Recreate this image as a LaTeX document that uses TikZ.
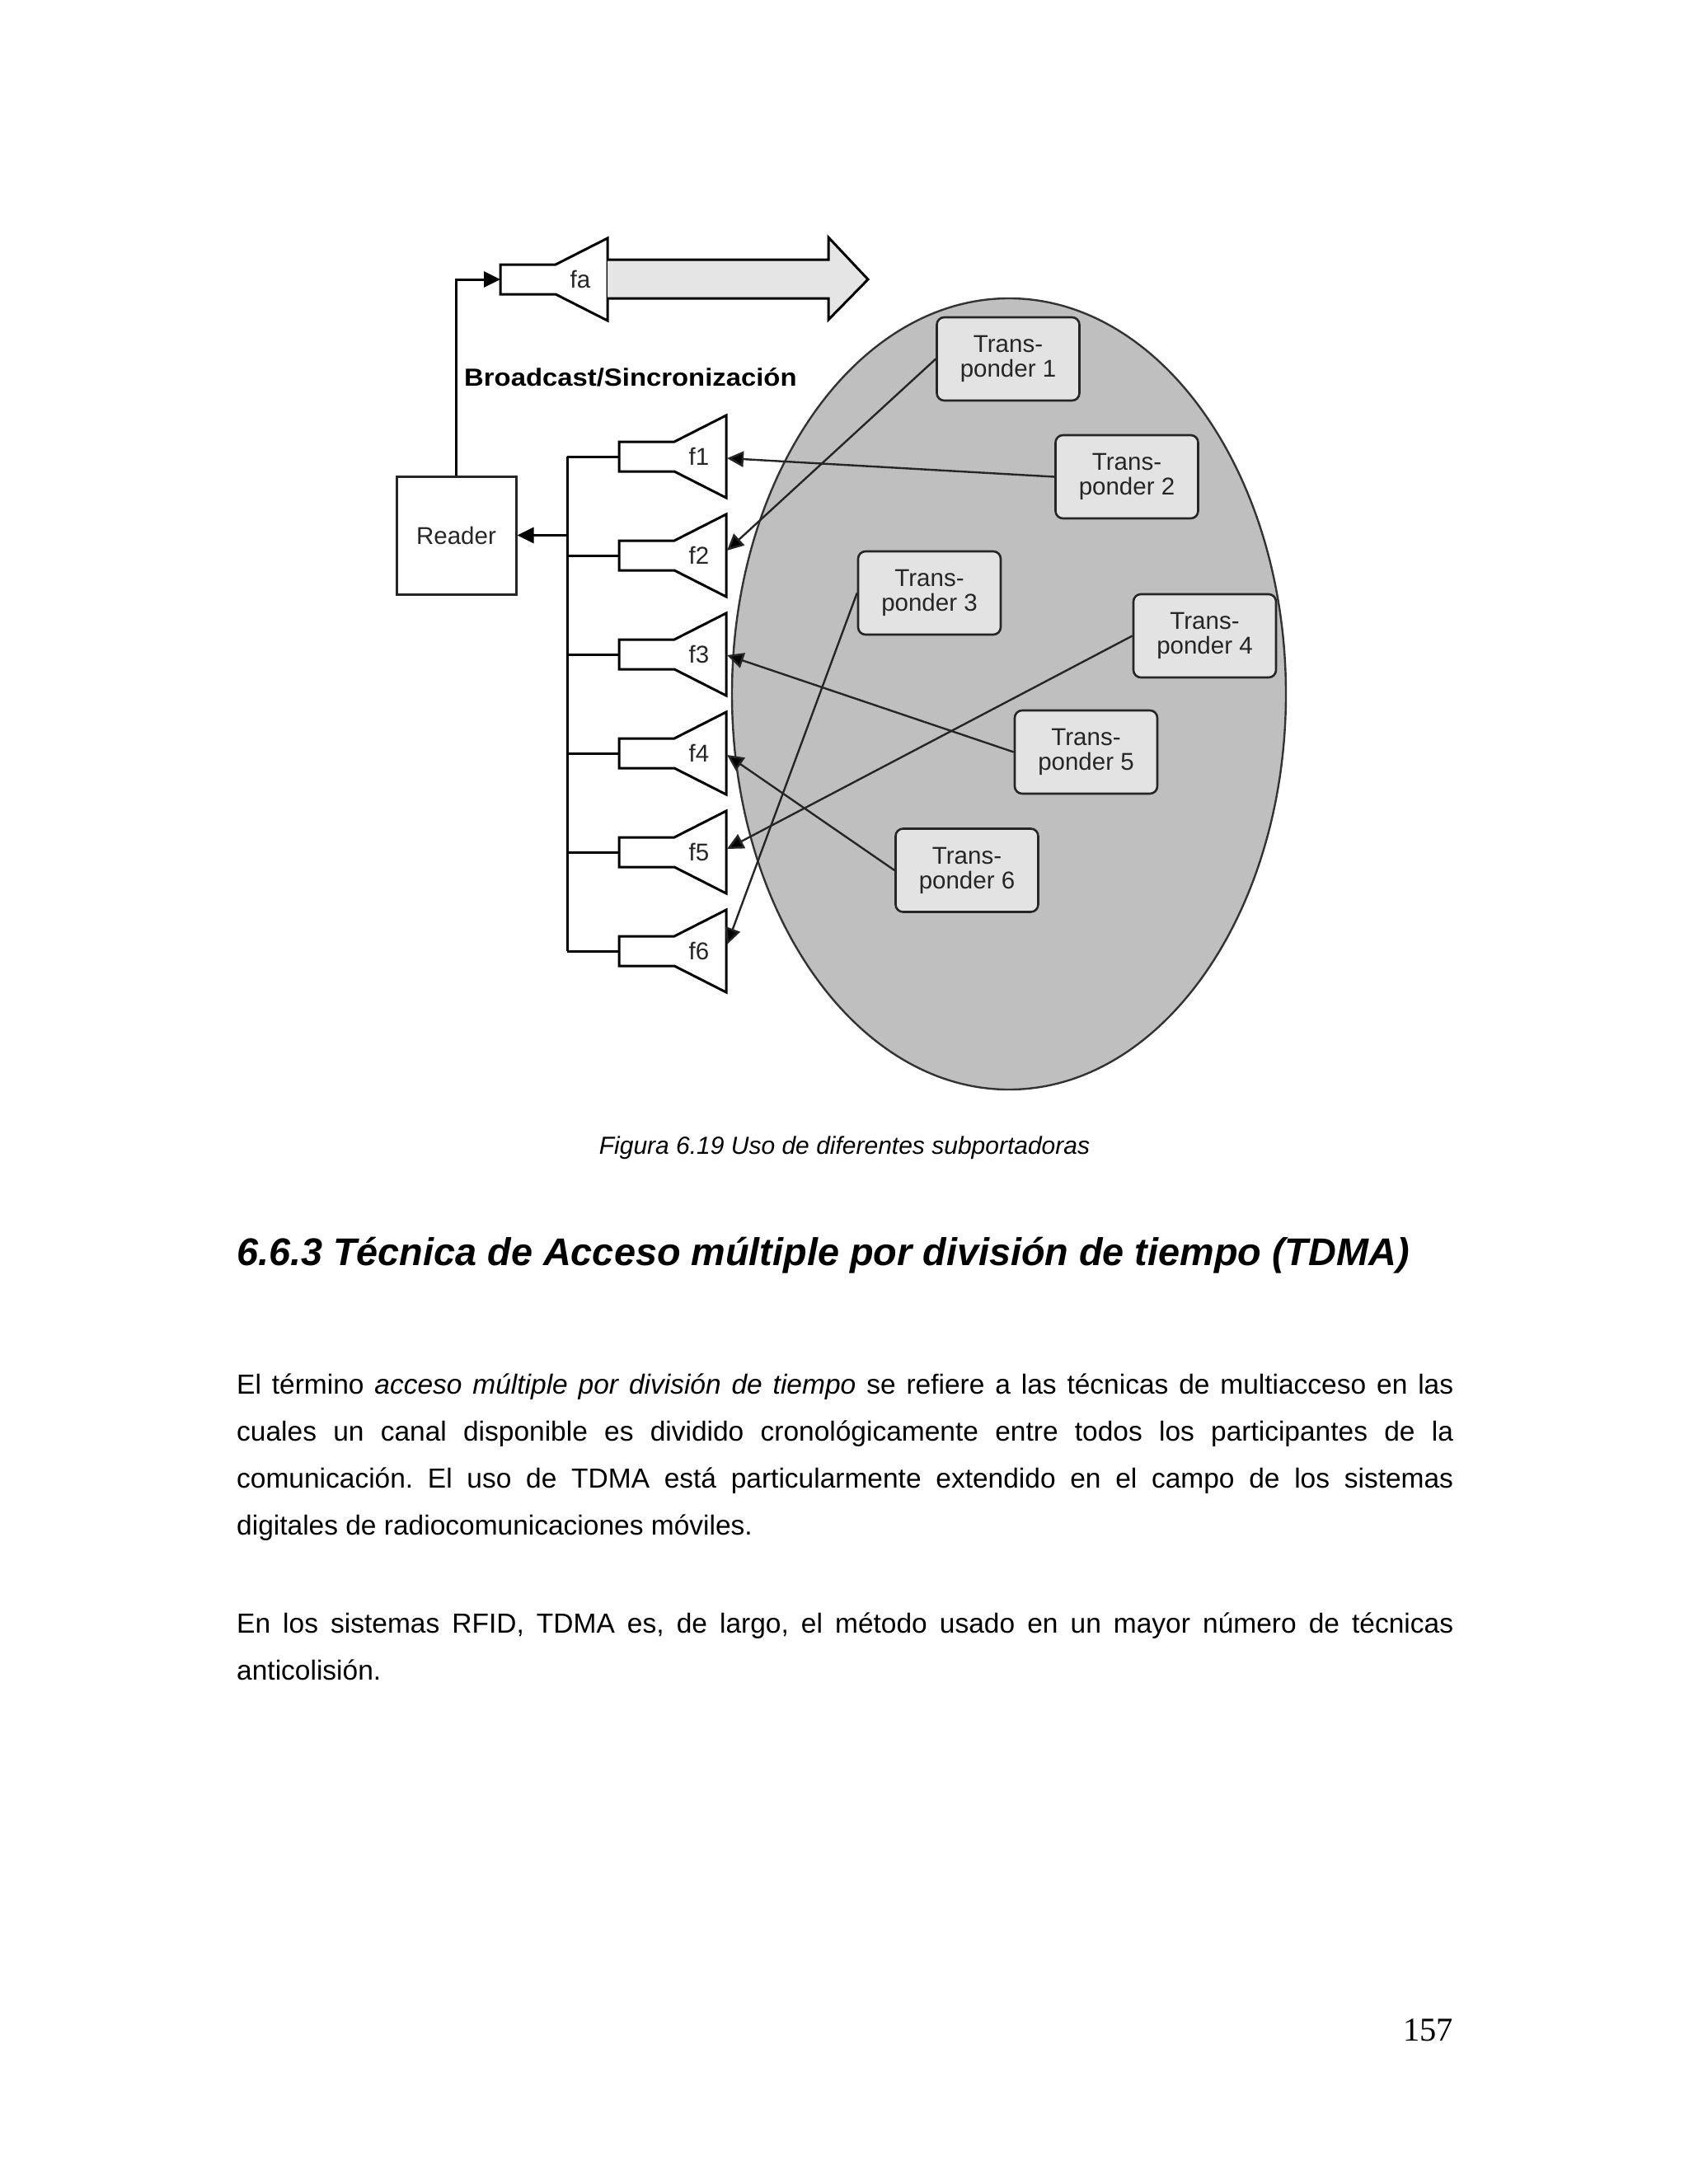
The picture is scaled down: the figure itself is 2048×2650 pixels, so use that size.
\documentclass[tikz,border=0pt]{standalone}
\usepackage{fontspec}
\setmainfont{Liberation Sans}
\newfontfamily\pagenumfont{Liberation Serif}
\usetikzlibrary{arrows.meta,shapes.geometric}
\frenchspacing
\newcommand\amplifier[4]{%
  \draw[ampshape] (#2,#3-18) -- (#2+67,#3-18) -- (#2+130,#3-50) -- (#2+130,#3+50) -- (#2+67,#3+18) -- (#2,#3+18) -- cycle;
  \coordinate (#1in) at (#2,#3);
  \coordinate (#1out) at (#2+130,#3);
  \node[amplabel] (#1lab) at (#2+97,#3) {#4};
}
\begin{document}
\begin{tikzpicture}[x=1pt,y=-1pt,
  ampshape/.style={draw=black,line width=3pt,fill=white,line join=miter},
  amplabel/.style={font=\fontsize{29.5}{30}\selectfont,inner sep=0pt,text=black!85},
  conn/.style={line width=2.4pt,draw=black!85},
  wire/.style={line width=3pt,draw=black},
  tipped/.style={-{Triangle[length=20pt,width=19pt,fill=black]}},
  tbox/.style={draw=black!85,line width=2.6pt,fill=black!11,rounded corners=9pt,
    minimum width=173pt,minimum height=101pt,inner sep=0pt,align=center,
    font=\fontsize{29.5}{30}\selectfont,text=black!85},
  zone/.style={ellipse,draw=black!80,line width=2.4pt,fill=black!25,
    minimum width=672pt,minimum height=960pt,inner sep=0pt},
  bodyline/.style={anchor=base west,inner sep=0pt,font=\fontsize{33.5}{40}\selectfont},
]
\fill[white] (0,0) rectangle (2048,2650);
\useasboundingbox (0,0) rectangle (2048,2650);

% coverage zone
\node[zone] (zone) at (1224,842) {};

% broadcast amplifier and big arrow
\amplifier{fa}{607}{339}{fa}
\draw[ampshape,fill=black!10] (737,315) -- (1005,315) -- (1005,288) -- (1053,339)
  -- (1005,388) -- (1005,362) -- (737,362);
\node[anchor=base west,inner sep=0pt,font=\bfseries\fontsize{30}{30}\selectfont] (bcast) at (563,468)
  {\scalebox{1.095}[1]{Broadcast/Sincronización}};

% reader
\node[draw=black!85,line width=3pt,fill=white,minimum width=145pt,minimum height=143pt,
  inner sep=0pt,font=\fontsize{29.5}{30}\selectfont,text=black!85] (reader) at (553.5,649.5) {Reader};

% receiving amplifiers
\amplifier{f1}{751}{554}{f1}
\amplifier{f2}{751}{674}{f2}
\amplifier{f3}{751}{794}{f3}
\amplifier{f4}{751}{914}{f4}
\amplifier{f5}{751}{1034}{f5}
\amplifier{f6}{751}{1154}{f6}

% bus
\coordinate (bustop) at (688,554);
\coordinate (busbot) at (688,1154);
\draw[wire] (bustop) -- (busbot);
\foreach \k in {1,...,6} {\draw[wire] (f\k in) -- (f\k in -| bustop);}
\draw[wire,tipped] (bustop |- reader.east) -- (reader.east);
\draw[wire,tipped] (reader.north) |- (fain);

% transponders
\node[tbox] (t1) at (1223,435.5) {Trans-\\ponder 1};
\node[tbox] (t2) at (1367,578.5) {Trans-\\ponder 2};
\node[tbox] (t3) at (1127.5,719.5) {Trans-\\ponder 3};
\node[tbox] (t4) at (1461.5,771.5) {Trans-\\ponder 4};
\node[tbox] (t5) at (1317.5,912.5) {Trans-\\ponder 5};
\node[tbox] (t6) at (1173,1056) {Trans-\\ponder 6};

% arrow targets on the amplifier outputs
\coordinate (f1t) at (882,556);
\coordinate (f2t) at (882,668);
\coordinate (f3t) at (882,795);
\coordinate (f4t) at (882,916);
\coordinate (f5t) at (882,1030);
\coordinate (f6t) at (882,1146);

\draw[conn,tipped] (t2.west) -- (f1t);
\draw[conn,tipped] (t1.west) -- (f2t);
\draw[conn,tipped] (t5.west) -- (f3t);
\draw[conn,tipped] (t6.west) -- (f4t);
\draw[conn,tipped] (t4.west) -- (f5t);
\draw[conn,tipped] (t3.west) -- (f6t);

% caption, heading, body text, page number
\node[anchor=base,inner sep=0pt,font=\itshape\fontsize{30}{36}\selectfont] (caption) at (1024.5,1400)
  {Figura 6.19 Uso de diferentes subportadoras};
\node[anchor=base west,inner sep=0pt,font=\bfseries\itshape\fontsize{46.8}{56}\selectfont] (heading) at (287,1535)
  {6.6.3 Técnica de Acceso múltiple por división de tiempo (TDMA)};
\node[bodyline] (p1) at (287,1691) {\makebox[1476pt][s]{El término \textit{acceso múltiple por división de tiempo} se refiere a las técnicas de multiacceso en las}};
\node[bodyline] (p2) at (287,1748) {\makebox[1476pt][s]{cuales un canal disponible es dividido cronológicamente entre todos los participantes de la}};
\node[bodyline] (p3) at (287,1805) {\makebox[1476pt][s]{comunicación. El uso de TDMA está particularmente extendido en el campo de los sistemas}};
\node[bodyline] (p4) at (287,1862) {digitales de radiocomunicaciones móviles.};
\node[bodyline] (p5) at (287,1981) {\makebox[1476pt][s]{En los sistemas RFID, TDMA es, de largo, el método usado en un mayor número de técnicas}};
\node[bodyline] (p6) at (287,2038) {anticolisión.};
\node[anchor=base east,inner sep=0pt,font=\pagenumfont\fontsize{40.5}{44}\selectfont] (pagenum) at (1763,2476) {157};
\end{tikzpicture}
\end{document}
